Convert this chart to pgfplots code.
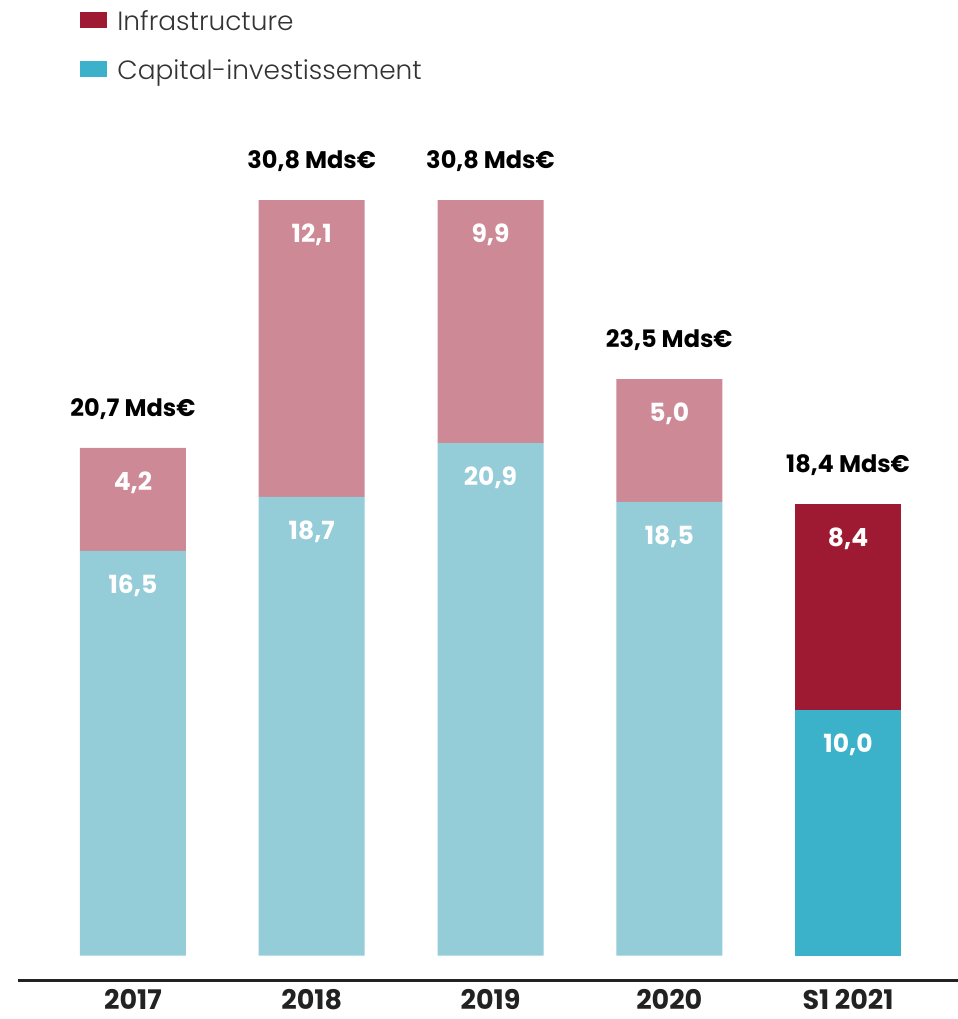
\documentclass[border=0pt]{standalone}
\usepackage{fontspec}
\setmainfont{Poppins}
\newfontfamily\lightfont{Poppins}[UprightFont=* Light]
\usepackage{pgfplots}
\usepackage{pgfplotstable}
\pgfplotsset{compat=1.18}

\definecolor{capLight}{RGB}{148,204,216}
\definecolor{infraLight}{RGB}{206,137,151}
\definecolor{capDark}{RGB}{60,177,202}
\definecolor{infraDark}{RGB}{158,26,50}
\definecolor{axisgray}{RGB}{34,34,34}

% one row per bar; zero where a series has no bar
\pgfplotstableread{
x cap  infra capS infraS
0 16.5 4.2   0    0
1 18.7 12.1  0    0
2 20.9 9.9   0    0
3 18.5 5.0   0    0
4 0    0     10.0 8.4
}\datatable

% segment labels, placed just under the top of each segment
\pgfplotstableread{
x top  lab
0 16.5 16,5
0 20.7 4,2
1 18.7 18,7
1 30.8 12,1
2 20.9 20,9
2 30.8 9,9
3 18.5 18,5
3 23.5 5,0
4 10.0 10,0
4 18.4 8,4
}\seglabels

% totals above each bar
\pgfplotstableread{
x top  lab
0 20.7 20,7
1 30.8 30,8
2 30.8 30,8
3 23.5 23,5
4 18.4 18,4
}\totlabels

\begin{document}
\begin{tikzpicture}
\pgfplotsset{common/.style={
    scale only axis,
    width=470pt, height=490.35pt,
    xmin=-0.643, xmax=4.615,
    ymin=-1.02, ymax=38.96,
    clip=false}}
\begin{axis}[
    common,
    ybar stacked,
    bar width=53pt,
    axis x line=bottom,
    axis y line=none,
    x axis line style={-, line width=1.3pt, color=axisgray},
    xtick={0,1,2,3,4},
    xticklabels={2017,2018,2019,2020,S1 2021},
    major tick length=0pt,
    xticklabel style={font=\bfseries\fontsize{13.5}{16}\selectfont, text=axisgray,
        yshift=-4pt, inner ysep=0pt},
    legend image code/.code={\fill[#1] (0pt,-4pt) rectangle (13.5pt,4pt);},
    reverse legend,
    legend cell align=left,
    legend style={at={(0.066,0.992)}, anchor=north west, draw=none, fill=none,
        inner sep=0pt, row sep=12.5pt,
        font=\lightfont\fontsize{13.2}{16}\selectfont, text=black!80,
        nodes={inner sep=1pt, text depth=0pt}},
]
\addplot[fill=capLight, draw=none, forget plot] table[x=x, y=cap] {\datatable};
\addplot[fill=infraLight, draw=none, forget plot] table[x=x, y=infra] {\datatable};
\addplot[fill=capDark, draw=none] table[x=x, y=capS] {\datatable};
\addlegendentry{\hspace{4pt}Capital-investissement}
\addplot[fill=infraDark, draw=none] table[x=x, y=infraS] {\datatable};
\addlegendentry{\hspace{4pt}Infrastructure}
\end{axis}
% labels, drawn in an unstacked copy of the same axis
\begin{axis}[common, hide axis,
    point meta=explicit symbolic]
\addplot[draw=none, nodes near coords=\pgfplotspointmeta,
    nodes near coords style={anchor=center, yshift=-17.25pt, text=white,
        font=\bfseries\fontsize{12.5}{15}\selectfont}]
    table[x=x, y=top, meta=lab] {\seglabels};
\addplot[draw=none, nodes near coords={\pgfplotspointmeta\ Mds€},
    nodes near coords style={anchor=center, yshift=19.5pt, text=black,
        font=\bfseries\fontsize{12}{14}\selectfont}]
    table[x=x, y=top, meta=lab] {\totlabels};
\end{axis}
\pgfresetboundingbox
\path (current axis.north east) rectangle ([xshift=-9pt, yshift=-19.15pt]current axis.south west);
\end{tikzpicture}
\end{document}
